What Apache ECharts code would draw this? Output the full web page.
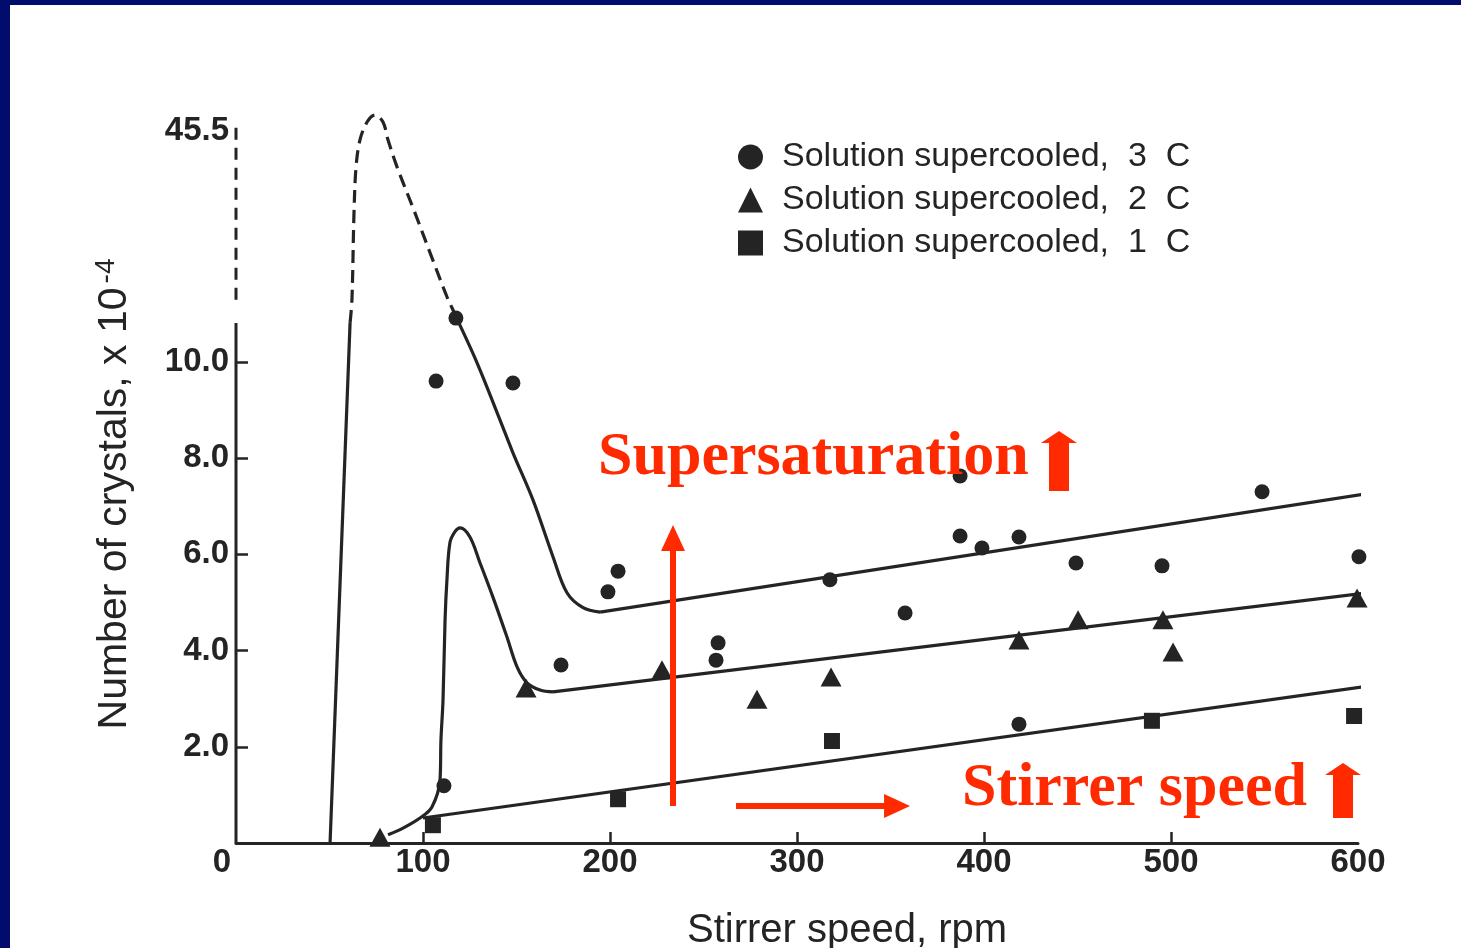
<!DOCTYPE html>
<html>
<head>
<meta charset="utf-8">
<script src="https://cdn.jsdelivr.net/npm/echarts@6/dist/echarts.min.js"></script>
<style>
  html, body { margin: 0; padding: 0; background: #ffffff; }
  #chart { width: 1461px; height: 948px; }
</style>
</head>
<body>
<div id="chart"></div>
<script>
// Axis ticks
const xTickValues = [0, 100, 200, 300, 400, 500, 600];
const xMinorTicks = [100, 200, 300, 400, 500];
const yLabelValues = [2, 4, 6, 8, 10, 45.5];
const yTickValues = [2, 4, 6, 8, 10];

// Legend names
const name3C = 'Solution supercooled,  3  C';
const name2C = 'Solution supercooled,  2  C';
const name1C = 'Solution supercooled,  1  C';

// Measured points: [stirrer speed rpm, number of crystals x 10^-4]
const points3C = [
  [117.6, 10.91], [107.0, 9.60], [148.1, 9.56], [198.9, 5.22], [204.3, 5.65],
  [173.8, 3.70], [257.8, 4.16], [256.7, 3.80], [317.6, 5.47], [357.8, 4.78],
  [387.2, 7.63], [387.2, 6.38], [398.9, 6.13], [418.7, 6.36], [449.2, 5.82],
  [495.2, 5.76], [548.7, 7.30], [600.5, 5.95], [418.7, 2.47], [111.2, 1.19]
];
const points2C = [
  [155.1, 3.22], [227.8, 3.60], [278.6, 2.99], [318.2, 3.45], [418.7, 4.22],
  [450.3, 4.64], [495.7, 4.64], [501.1, 3.97], [599.5, 5.09], [77.0, 0.12]
];
const points1C = [
  [204.3, 0.91], [318.7, 2.12], [489.8, 2.54], [597.9, 2.64], [105.3, 0.37]
];

// Fitted curves: 3 C supercooling
const curve3Rise = [[50.3, 0], [61.0, 10.81]];
const curve3Dashed = [
  [61.0, 10.81], [62.0, 13.53], [63.1, 29.27], [64.2, 37.6], [66.3, 42.48],
  [70.1, 45.73], [74.3, 47.0], [78.6, 45.73], [81.3, 42.48], [86.1, 37.6],
  [95.7, 29.27], [104.8, 21.13], [112.8, 14.08], [115.5, 12.09], [117.6, 10.94]
];
const curve3Fall = [
  [117.6, 10.94], [128.9, 9.98], [141.2, 8.79], [148.1, 8.11], [158.8, 7.13],
  [169.5, 5.95], [177.0, 5.20], [185.6, 4.89], [194.7, 4.80]
];
const line3C = [[194.7, 4.80], [611.8, 7.30]];

// Fitted curves: 2 C supercooling
const curve2C = [
  [81.3, 0.17], [89.3, 0.31], [98.4, 0.52], [104.8, 0.75], [109.1, 1.31],
  [109.6, 2.14], [110.7, 2.97], [111.8, 4.64], [112.8, 5.47], [114.4, 6.24],
  [117.1, 6.47], [119.8, 6.55], [125.1, 6.36], [130.5, 5.82], [137.4, 5.11],
  [144.9, 4.28], [150.3, 3.66], [155.6, 3.33], [162.6, 3.18], [169.5, 3.14]
];
const line2C = [[169.5, 3.14], [618.2, 5.26]];

// Fitted line: 1 C supercooling
const line1C = [[100.0, 0.52], [629.4, 3.39]];

// Vertical axis line: solid below the break, dashed across it
const axisSolid = [[0, 0], [0, 10.81]];
const axisDashed = [[0, 13.53], [0, 45.5]];

// Red annotation arrows
const arrowUp = [[233.7, 0.77], [233.7, 6.34]];
const arrowRight = [[267.4, 0.77], [353.5, 0.77]];

const ink = '#242424';
const red = '#ff2a00';
const sans = '"Liberation Sans", Arial, Helvetica, sans-serif';
const serif = '"Liberation Serif", "Times New Roman", serif';

function curve(name, data, opts) {
  opts = opts || {};
  return {
    type: 'line', name: name, data: data, clip: false, silent: true,
    symbol: 'none', smooth: opts.smooth || false,
    lineStyle: { color: ink, width: 3.2, type: opts.dashed ? [13, 7] : 'solid' },
    z: 3
  };
}

function scatter(name, data, symbol, size) {
  return {
    type: 'scatter', name: name, data: data, clip: false,
    symbol: symbol, symbolSize: size,
    itemStyle: { color: ink, opacity: 1 },
    z: 4
  };
}

// Block arrow drawn next to the red captions
function blockArrow(x, y, h) {
  return {
    type: 'polygon', x: x, y: y, silent: true, z: 100,
    shape: { points: [[0, 12], [18, 0], [36, 12], [28, 12], [28, h], [8, h], [8, 12]] },
    style: { fill: red }
  };
}

const chart = echarts.init(document.getElementById('chart'), null, { renderer: 'canvas' });

chart.setOption({
  animation: false,
  backgroundColor: '#ffffff',
  textStyle: { fontFamily: sans },
  grid: { left: 236, right: 103, top: 115, bottom: 105, containLabel: false, outerBoundsMode: 'none' },
  legend: {
    orient: 'vertical', left: 733, top: 135,
    itemWidth: 25, itemHeight: 25, itemGap: 9,
    data: [name3C, name2C, name1C],
    textStyle: { fontSize: 34, color: ink, fontFamily: sans, padding: [0, 0, 0, 14] },
    selectedMode: false
  },
  xAxis: {
    type: 'value', min: 0, max: 600,
    name: 'Stirrer speed, rpm', nameLocation: 'middle', nameGap: 68,
    nameTextStyle: { fontSize: 40, color: ink, fontFamily: sans, padding: [0, 0, 0, 100] },
    axisLine: { show: true, lineStyle: { color: ink, width: 3 } },
    axisTick: { show: true, inside: true, length: 11, customValues: xMinorTicks,
      lineStyle: { color: ink, width: 2.5 } },
    axisLabel: {
      customValues: xTickValues, fontSize: 33, fontWeight: 'bold', color: ink, margin: 3,
      formatter: function (v) { return v === 0 ? '{z|0}' : String(v); },
      rich: { z: { fontSize: 33, fontWeight: 'bold', color: ink, padding: [0, 28, 0, 0] } }
    },
    splitLine: { show: false }
  },
  yAxis: {
    type: 'value', min: 0, max: 47,
    breaks: [{ start: 11, end: 47, gap: '27.3%' }],
    breakArea: { show: false },
    name: '{a|Number of crystals, x 10}{s|-4}', nameLocation: 'middle', nameGap: 98,
    nameTextStyle: {
      padding: [0, 30, 0, 0],
      rich: {
        a: { fontSize: 41, color: ink, fontFamily: sans },
        s: { fontSize: 28, color: ink, fontFamily: sans, verticalAlign: 'top', padding: [0, 0, 18, 4] }
      }
    },
    axisLine: { show: false },
    axisTick: { show: true, inside: true, length: 12, customValues: yTickValues,
      lineStyle: { color: ink, width: 2.5 } },
    axisLabel: {
      customValues: yLabelValues, fontSize: 33, fontWeight: 'bold', color: ink, margin: 7,
      formatter: function (v) { return v > 40 ? '{t|' + v.toFixed(1) + '}' : v.toFixed(1); },
      rich: { t: { fontSize: 33, fontWeight: 'bold', color: ink, padding: [16, 0, 0, 0] } }
    },
    splitLine: { show: false }
  },
  series: [
    {
      type: 'line', name: 'axis-solid', data: axisSolid, clip: false, silent: true, symbol: 'none',
      lineStyle: { color: ink, width: 3 }, z: 3
    },
    {
      type: 'line', name: 'axis-dashed', data: axisDashed, clip: false, silent: true, symbol: 'none',
      lineStyle: { color: ink, width: 3, type: [12, 8] }, z: 3
    },
    curve('3C rise', curve3Rise),
    curve('3C peak', curve3Dashed, { dashed: true, smooth: 0.35 }),
    curve('3C fall', curve3Fall, { smooth: 0.35 }),
    curve('3C line', line3C),
    curve('2C curve', curve2C, { smooth: 0.35 }),
    curve('2C line', line2C),
    Object.assign(curve('1C line', line1C), {
      markLine: {
        silent: true, animation: false,
        symbol: ['none', 'triangle'], symbolSize: [24, 26],
        lineStyle: { color: red, width: 6, type: 'solid', opacity: 1 },
        label: { show: false },
        emphasis: { disabled: true },
        data: [
          [{ coord: arrowUp[0] }, { coord: arrowUp[1] }],
          [{ coord: arrowRight[0] }, { coord: arrowRight[1] }]
        ]
      }
    }),
    scatter(name3C, points3C, 'circle', 15),
    scatter(name2C, points2C, 'triangle', [21, 19]),
    scatter(name1C, points1C, 'rect', 16)
  ],
  graphic: [
    { type: 'rect', silent: true, z: 200, shape: { x: 0, y: 0, width: 1461, height: 5 }, style: { fill: '#020c6c' } },
    { type: 'rect', silent: true, z: 200, shape: { x: 0, y: 0, width: 10, height: 948 }, style: { fill: '#020c6c' } },
    {
      type: 'text', x: 598, y: 458, silent: true, z: 100,
      style: { text: 'Supersaturation', fill: red, font: 'bold 62px ' + serif,
        textVerticalAlign: 'middle', verticalAlign: 'middle' }
    },
    blockArrow(1041, 431, 60),
    {
      type: 'text', x: 962, y: 789, silent: true, z: 100,
      style: { text: 'Stirrer speed', fill: red, font: 'bold 62px ' + serif,
        textVerticalAlign: 'middle', verticalAlign: 'middle' }
    },
    blockArrow(1325, 763, 55)
  ]
});
</script>
</body>
</html>
